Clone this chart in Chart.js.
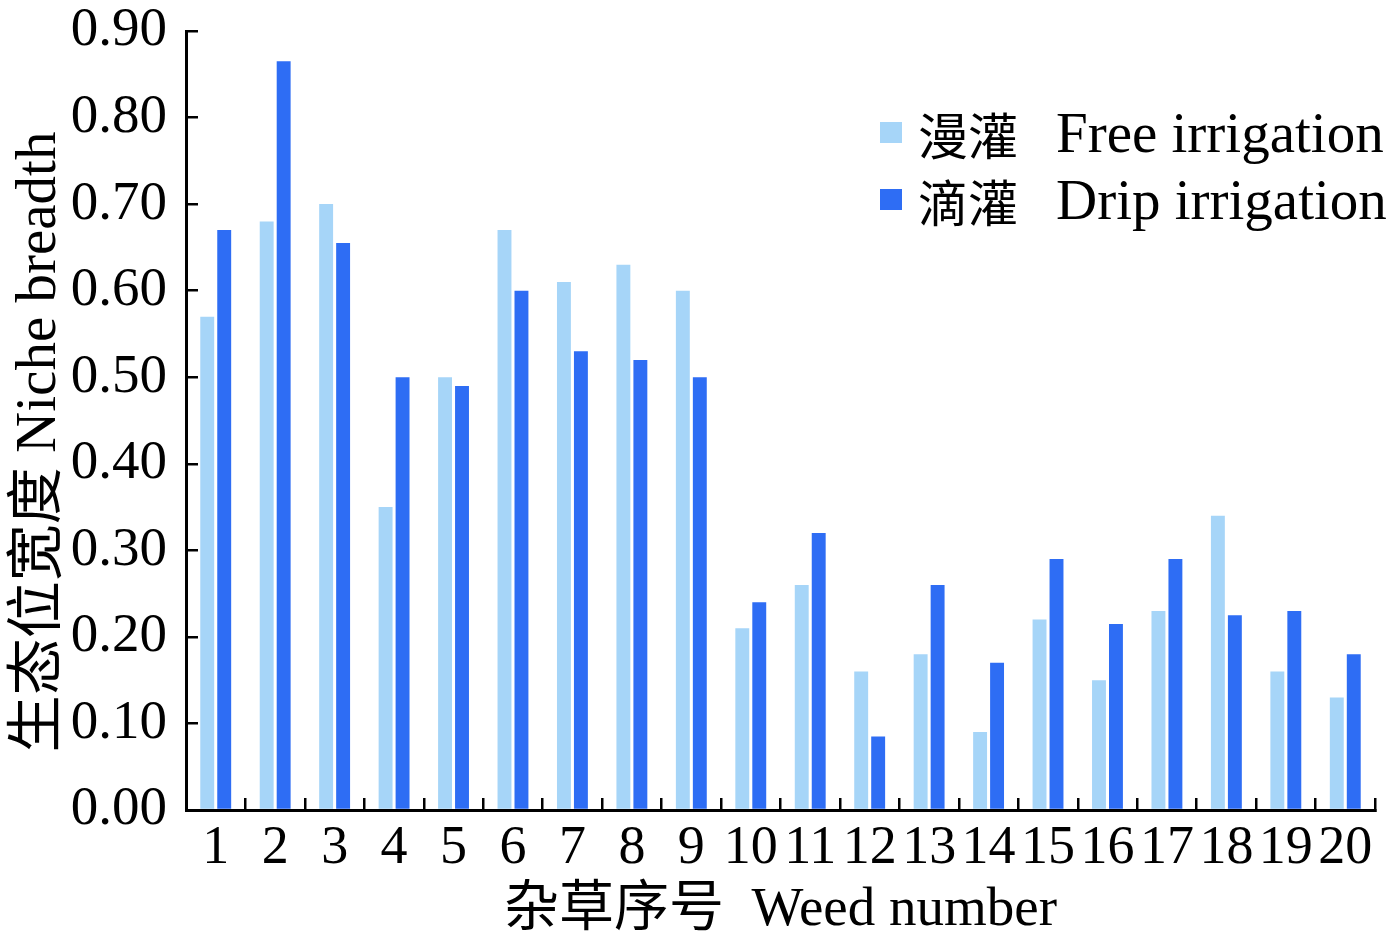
<!DOCTYPE html>
<html>
<head>
<meta charset="utf-8">
<script src="https://cdn.jsdelivr.net/npm/chart.js@4.4.0/dist/chart.umd.min.js"></script>
<style>
    html, body { margin: 0; padding: 0; background: #fff; }
    #wrap { position: relative; width: 1400px; height: 946px; }
    #legend {
        position: absolute; left: 880px; top: 99px;
        font-family: 'Liberation Serif', 'Noto Sans CJK SC', serif;
        font-size: 57px; color: #000;
    }
    .row { display: flex; align-items: center; height: 67px; white-space: pre; }
    .sw { width: 22px; height: 21px; margin-right: 16px; }
    .cn { font-family: 'Noto Sans CJK SC', serif; font-size: 50px; margin-right: 38px; }
</style>
</head>
<body>
<div id="wrap">
    <canvas id="c" width="1400" height="946"></canvas>
    <div id="legend"></div>
</div>
<script>
const categories = ['1', '2', '3', '4', '5', '6', '7', '8', '9', '10',
    '11', '12', '13', '14', '15', '16', '17', '18', '19', '20'];
// 漫灌 Free irrigation
const freeIrrigation = [0.57, 0.68, 0.70, 0.35, 0.50, 0.67, 0.61, 0.63, 0.60, 0.21,
    0.26, 0.16, 0.18, 0.09, 0.22, 0.15, 0.23, 0.34, 0.16, 0.13];
// 滴灌 Drip irrigation
const dripIrrigation = [0.67, 0.865, 0.655, 0.50, 0.49, 0.60, 0.53, 0.52, 0.50, 0.24,
    0.32, 0.085, 0.26, 0.17, 0.29, 0.215, 0.29, 0.225, 0.23, 0.18];
const seriesLabels = ['漫灌', '滴灌'];
const seriesLabelsEn = ['Free irrigation', 'Drip irrigation'];
const yTicks = [0, 0.1, 0.2, 0.3, 0.4, 0.5, 0.6, 0.7, 0.8, 0.9];

const LIGHT = '#a6d5f8';
const DARK = '#2e6df4';
const FONT = "'Liberation Serif', 'Noto Sans CJK SC', serif";

const ctx = document.getElementById('c').getContext('2d');

new Chart(ctx, {
    type: 'bar',
    data: {
        labels: categories,
        datasets: [
            { label: seriesLabels[0], data: freeIrrigation, backgroundColor: LIGHT },
            { label: seriesLabels[1], data: dripIrrigation, backgroundColor: DARK }
        ]
    },
    options: {
        responsive: false,
        animation: false,
        devicePixelRatio: 1,
        categoryPercentage: 0.571,
        barPercentage: 0.82,
        layout: { padding: { top: 0, right: 25, left: 0, bottom: 0 } },
        plugins: {
            legend: { display: false },
            tooltip: { enabled: false }
        },
        scales: {
            x: {
                offset: true,
                grid: {
                    offset: true,
                    drawOnChartArea: false,
                    drawTicks: true,
                    tickLength: -12,
                    color: '#000',
                    lineWidth: 2.5
                },
                border: { display: true, color: '#000', width: 3 },
                ticks: {
                    color: '#000',
                    font: { family: FONT, size: 54 },
                    padding: 18,
                    maxRotation: 0,
                    autoSkip: false
                },
                title: {
                    display: true,
                    text: '杂草序号  Weed number',
                    color: '#000',
                    font: { family: FONT, size: 55 },
                    padding: { top: 0, bottom: 2 }
                },
                afterFit: (s) => { s.height = 136; }
            },
            y: {
                min: 0,
                max: 0.9,
                afterBuildTicks: (s) => { s.ticks = yTicks.map(v => ({ value: v })); },
                grid: {
                    drawOnChartArea: false,
                    drawTicks: true,
                    tickLength: -12,
                    color: '#000',
                    lineWidth: 2.5
                },
                border: { display: true, color: '#000', width: 3 },
                ticks: {
                    color: '#000',
                    font: { family: FONT, size: 55 },
                    padding: 31,
                    callback: (v) => Number(v).toFixed(2)
                },
                title: {
                    display: true,
                    text: '生态位宽度 Niche breadth   ',
                    color: '#000',
                    font: { family: FONT, size: 57 },
                    padding: { top: 6, bottom: 0 }
                },
                afterFit: (s) => {
                    s.width = 186;
                    // keep the 0.90 tick near the top edge, as in the figure
                    s.paddingTop = 31;
                    s.paddingBottom = 0;
                }
            }
        }
    }
});

// legend drawn as html, placed inside the plot at top right
const legendEl = document.getElementById('legend');
legendEl.innerHTML = seriesLabels.map((t, i) =>
    `<div class="row"><span class="sw" style="background:${i === 0 ? LIGHT : DARK}"></span>` +
    `<span class="cn">${t}</span><span>${seriesLabelsEn[i]}</span></div>`
).join('');
</script>
</body>
</html>
